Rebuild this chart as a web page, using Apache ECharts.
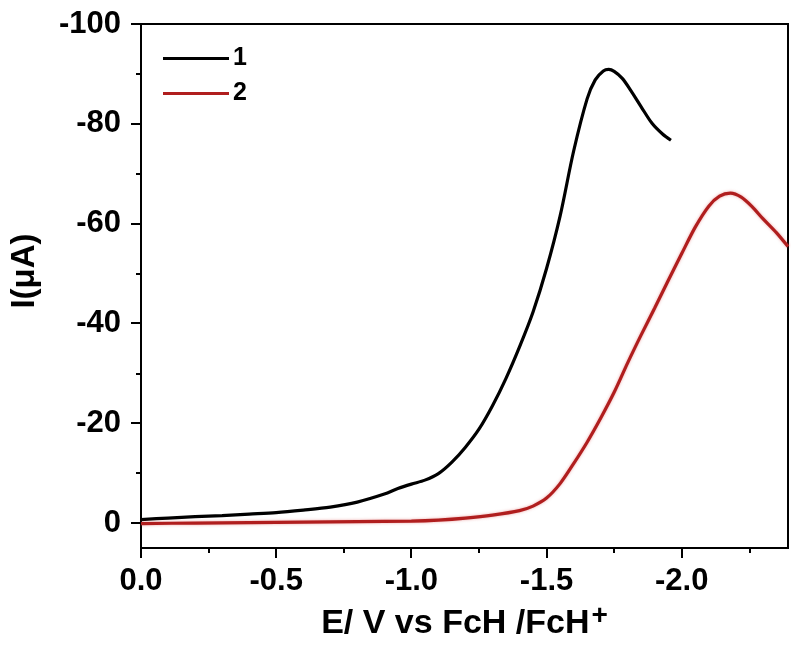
<!DOCTYPE html>
<html>
<head>
<meta charset="utf-8">
<script src="https://cdn.jsdelivr.net/npm/echarts@6/dist/echarts.min.js"></script>
<style>html,body{margin:0;padding:0;background:#fff}#c{width:792px;height:651px}</style>
</head>
<body>
<div id="c"></div>
<script>
// Series 1 (black): [E (V), I (uA)]
var series1 = [
  [0, -0.7], [-0.1, -1.0], [-0.2, -1.3], [-0.3, -1.5], [-0.4, -1.8], [-0.5, -2.1],
  [-0.6, -2.6], [-0.7, -3.2], [-0.8, -4.2], [-0.9, -5.8], [-0.95, -6.9], [-1.0, -7.8],
  [-1.05, -8.6], [-1.1, -9.9], [-1.15, -12.2], [-1.2, -15.2], [-1.25, -18.8], [-1.3, -23.5],
  [-1.35, -29.0], [-1.4, -35.3], [-1.45, -42.3], [-1.5, -51.0], [-1.55, -61.5], [-1.6, -74.5],
  [-1.65, -85.0], [-1.68, -88.8], [-1.71, -90.6], [-1.73, -90.9], [-1.75, -90.5], [-1.78, -89.1],
  [-1.81, -86.8], [-1.85, -83.4], [-1.89, -80.1], [-1.93, -77.9], [-1.96, -76.7]
];
// Series 2 (red)
var series2 = [
  [0, 0.1], [-0.2, 0.0], [-0.4, -0.1], [-0.6, -0.2], [-0.8, -0.3], [-1.0, -0.4],
  [-1.1, -0.6], [-1.2, -1.0], [-1.3, -1.6], [-1.4, -2.5], [-1.45, -3.4], [-1.5, -5.0],
  [-1.55, -7.9], [-1.6, -11.9], [-1.65, -16.2], [-1.7, -21.0], [-1.75, -26.2], [-1.8, -32.1],
  [-1.85, -37.7], [-1.9, -43.1], [-1.95, -48.6], [-2.0, -54.0], [-2.05, -59.3], [-2.1, -63.5],
  [-2.14, -65.5], [-2.18, -66.1], [-2.22, -65.3], [-2.26, -63.4], [-2.3, -61.0], [-2.35, -58.2],
  [-2.393, -55.4]
];
var seriesNames = ['1', '2'];
var xMajorTicks = [0, -0.5, -1.0, -1.5, -2.0];
var xMinorTicks = [-0.25, -0.75, -1.25, -1.75, -2.25];
var yMajorTicks = [-100, -80, -60, -40, -20, 0];
var yMinorTicks = [-90, -70, -50, -30, -10];
var xRange = [-2.393, 0];
var yRange = [-100, 5];

var FONT = '"Liberation Sans", Arial, sans-serif';
var chart = echarts.init(document.getElementById('c'));
function xAx(extra) {
  return Object.assign({
    type: 'value', min: xRange[0], max: xRange[1], inverse: true, position: 'bottom',
    splitLine: {show: false}, axisLine: {show: false, onZero: false}, axisTick: {show: false}, axisLabel: {show: false}
  }, extra);
}
function yAx(extra) {
  return Object.assign({
    type: 'value', min: yRange[0], max: yRange[1], inverse: true, position: 'left',
    splitLine: {show: false}, axisLine: {show: false, onZero: false}, axisTick: {show: false}, axisLabel: {show: false}
  }, extra);
}
function ticks(vals, len) {
  return {show: true, inside: false, length: len, customValues: vals, lineStyle: {color: '#000', width: 2}};
}

chart.setOption({
  animation: false,
  backgroundColor: '#fff',
  grid: {left: 139, top: 24, right: 4, bottom: 103, show: true, borderColor: '#000', borderWidth: 2},
  legend: {
    left: 158, top: 41, orient: 'vertical', icon: 'rect', itemWidth: 66, itemHeight: 3, itemGap: 10,
    data: seriesNames,
    textStyle: {fontFamily: FONT, fontWeight: 'bold', fontSize: 25, lineHeight: 25, color: '#000', padding: [0, 0, 0, -1]}
  },
  xAxis: [
    xAx({
      name: '{a|E/ V vs FcH /FcH}{s|+}', nameLocation: 'middle', nameGap: 50,
      nameTextStyle: {rich: {
        a: {fontFamily: FONT, fontWeight: 'bold', fontSize: 34, color: '#000'},
        s: {fontFamily: FONT, fontWeight: 'bold', fontSize: 28, color: '#000', padding: [0, 0, 16, 2]}
      }},
      axisLine: {show: true, onZero: false, lineStyle: {color: '#000', width: 2}},
      axisLabel: {show: true, customValues: xMajorTicks, margin: 18, fontFamily: FONT, fontWeight: 'bold', fontSize: 31, color: '#000',
        formatter: function (v) { return v === 0 ? '0.0' : v.toFixed(1); }}
    }),
    xAx({axisTick: ticks(xMinorTicks, 5)})
  ],
  yAxis: [
    yAx({
      name: 'I(μA)', nameLocation: 'middle', nameGap: 100, nameRotate: 90,
      nameTextStyle: {fontFamily: FONT, fontWeight: 'bold', fontSize: 33, color: '#000', padding: [0, 0, 0, 30]},
      axisLine: {show: true, onZero: false, lineStyle: {color: '#000', width: 2}},
      axisLabel: {show: true, customValues: yMajorTicks, margin: 20, fontFamily: FONT, fontWeight: 'bold', fontSize: 31, color: '#000',
        formatter: function (v) { return String(v); }}
    }),
    yAx({axisTick: ticks(yMinorTicks, 5)})
  ],
  series: [
    {name: seriesNames[0], type: 'line', data: series1, smooth: 0.3, showSymbol: false, symbol: 'none',
      xAxisIndex: 0, yAxisIndex: 0, color: '#000',
      lineStyle: {color: '#000', width: 3.2}},
    {name: seriesNames[1], type: 'line', data: series2, smooth: 0.3, showSymbol: false, symbol: 'none',
      xAxisIndex: 0, yAxisIndex: 0, color: '#b01e1e',
      lineStyle: {color: '#b01e1e', width: 3.2, shadowColor: 'rgba(220,80,80,0.5)', shadowBlur: 3}}
  ]
});

// Major ticks, positioned through the axes' own scales
var axisBottom = chart.convertToPixel({yAxisIndex: 0}, yRange[1]);
var axisLeft = chart.convertToPixel({xAxisIndex: 0}, xRange[1]);
var tickEls = [];
xMajorTicks.forEach(function (v) {
  var px = Math.round(chart.convertToPixel({xAxisIndex: 0}, v));
  tickEls.push({type: 'line', z: 100, shape: {x1: px, y1: axisBottom, x2: px, y2: axisBottom + 10},
    style: {stroke: '#000', lineWidth: 2}, silent: true});
});
yMajorTicks.forEach(function (v) {
  var py = Math.round(chart.convertToPixel({yAxisIndex: 0}, v));
  tickEls.push({type: 'line', z: 100, shape: {x1: axisLeft - 10, y1: py, x2: axisLeft, y2: py},
    style: {stroke: '#000', lineWidth: 2}, silent: true});
});
chart.setOption({graphic: tickEls});
</script>
</body>
</html>
